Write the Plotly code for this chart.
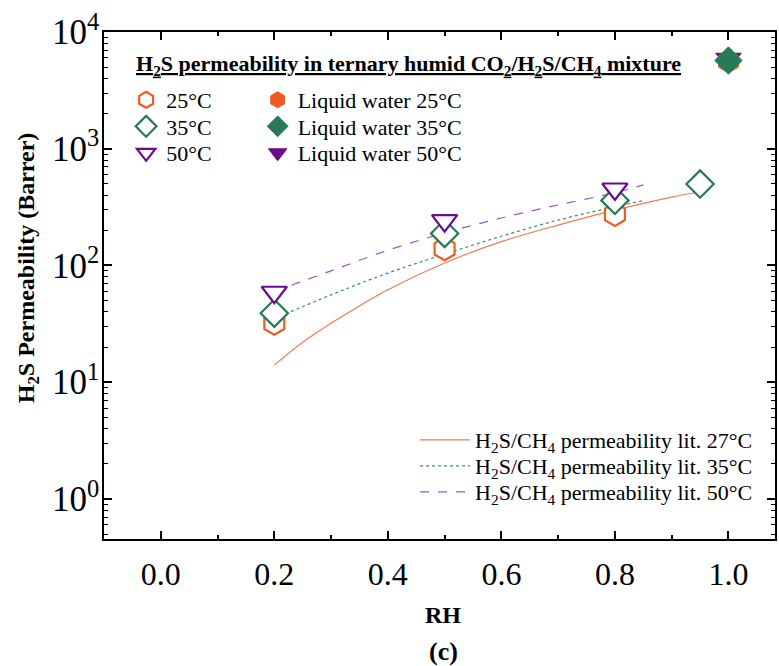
import plotly.graph_objects as go

# ---- data ----
rh_meas = [0.2, 0.5, 0.8]
rh_meas35 = [0.2, 0.5, 0.8, 0.95]
p25 = [32, 139, 274]
p35 = [39, 188, 361, 498]
p50 = [59, 242, 452]

rh_liq = [1.0]
liq25 = [5600]
liq35 = [5700]
liq50 = [5900]

rh_lit27 = [0.2, 0.25, 0.3, 0.35, 0.4, 0.5, 0.6, 0.7, 0.8, 0.9, 0.95]
lit27 = [14, 22, 32, 45, 62, 105, 160, 222, 298, 385, 428]
rh_lit35 = [0.2, 0.3, 0.4, 0.5, 0.6, 0.7, 0.8, 0.85]
lit35 = [35, 56, 86, 125, 178, 245, 318, 360]
rh_lit50 = [0.2, 0.3, 0.4, 0.5, 0.6, 0.7, 0.8, 0.85]
lit50 = [60, 90, 135, 190, 255, 330, 420, 490]

x_ticks = [0.0, 0.2, 0.4, 0.6, 0.8, 1.0]
x_ticktext = ["0.0", "0.2", "0.4", "0.6", "0.8", "1.0"]
y_ticks = [1, 10, 100, 1000, 10000]
y_ticktext = ["10<sup>0</sup>", "10<sup>1</sup>", "10<sup>2</sup>", "10<sup>3</sup>", "10<sup>4</sup>"]

C25 = "#F05A22"
C35 = "#267A55"
C50 = "#6A0A8C"
FONT = "Liberation Serif"

fig = go.Figure()

# literature lines
fig.add_trace(go.Scatter(x=rh_lit27, y=lit27, mode="lines", line=dict(color="#F47A50", width=1.2, shape="spline"),
                         name="H<sub>2</sub>S/CH<sub>4</sub> permeability lit. 27°C", legend="legend7", showlegend=True))
fig.add_trace(go.Scatter(x=rh_lit35, y=lit35, mode="lines", line=dict(color="#3B8F63", width=1.2, dash="dot", shape="spline"),
                         name="H<sub>2</sub>S/CH<sub>4</sub> permeability lit. 35°C", legend="legend8", showlegend=True))
fig.add_trace(go.Scatter(x=rh_lit50, y=lit50, mode="lines", line=dict(color="#A050D0", width=1.2, dash="dash", shape="spline"),
                         name="H<sub>2</sub>S/CH<sub>4</sub> permeability lit. 50°C", legend="legend9", showlegend=True))

# measured (open markers)
fig.add_trace(go.Scatter(x=rh_meas, y=p25, mode="markers", name="25°C", legend="legend", showlegend=True,
                         marker=dict(symbol="hexagon", size=23, color="white", line=dict(color=C25, width=2.2))))
fig.add_trace(go.Scatter(x=rh_meas35, y=p35, mode="markers", name="35°C", legend="legend2", showlegend=True,
                         marker=dict(symbol="diamond", size=21, color="white", line=dict(color=C35, width=2.2))))
fig.add_trace(go.Scatter(x=rh_meas, y=p50, mode="markers", name="50°C", legend="legend3", showlegend=True,
                         marker=dict(symbol="triangle-down", size=22, color="white", line=dict(color=C50, width=2.2))))

# liquid water (filled markers)
fig.add_trace(go.Scatter(x=rh_liq, y=liq50, mode="markers", name="Liquid water 50°C", legend="legend6", showlegend=True,
                         marker=dict(symbol="triangle-down", size=22, color=C50, line=dict(color=C50, width=1))))
fig.add_trace(go.Scatter(x=rh_liq, y=liq25, mode="markers", name="Liquid water 25°C", legend="legend4", showlegend=True,
                         marker=dict(symbol="hexagon", size=23, color=C25, line=dict(color=C25, width=1))))
fig.add_trace(go.Scatter(x=rh_liq, y=liq35, mode="markers", name="Liquid water 35°C", legend="legend5", showlegend=True,
                         marker=dict(symbol="diamond", size=21, color=C35, line=dict(color=C35, width=1))))

axis_common = dict(showgrid=False, zeroline=False, showline=True, linecolor="black", linewidth=1.5,
                   mirror="ticks", ticks="inside", ticklen=8, tickwidth=1.5, tickcolor="black")

fig.update_xaxes(range=[-0.1, 1.082], tickvals=x_ticks, ticktext=x_ticktext,
                 tickfont=dict(family=FONT, size=32, color="black"), ticklabelstandoff=6,
                 minor=dict(ticks="inside", ticklen=4, tickwidth=1.5, dtick=0.1, tick0=0, tickcolor="black"),
                 **axis_common)
fig.update_yaxes(type="log", range=[-0.343, 4.0], tickvals=y_ticks, ticktext=y_ticktext,
                 tickfont=dict(family=FONT, size=35, color="black"), ticklabelstandoff=-4,
                 minor=dict(ticks="inside", ticklen=4, tickwidth=1.2, dtick="D1", tickcolor="black"),
                 **axis_common)

legend_common = dict(bgcolor="rgba(0,0,0,0)", borderwidth=0, font=dict(family=FONT, size=22, color="black"),
                     itemsizing="trace", xanchor="left", yanchor="middle", tracegroupgap=0)


def py(p):
    return (539 - p) / 507


col1_x = 0.033
col2_x = 0.229
lit_x = 0.4636
rows_top = [100, 126.5, 153]
rows_lit = [440, 466, 492]

fig.update_layout(
    width=779, height=666,
    showlegend=True,
    margin=dict(l=104, r=2, t=32, b=127),
    plot_bgcolor="white", paper_bgcolor="white",
    font=dict(family=FONT, color="black"),
    legend=dict(x=col1_x, y=py(rows_top[0]), **legend_common),
    legend2=dict(x=col1_x, y=py(rows_top[1]), **legend_common),
    legend3=dict(x=col1_x, y=py(rows_top[2]), **legend_common),
    legend4=dict(x=col2_x, y=py(rows_top[0]), **legend_common),
    legend5=dict(x=col2_x, y=py(rows_top[1]), **legend_common),
    legend6=dict(x=col2_x, y=py(rows_top[2]), **legend_common),
    legend7=dict(x=lit_x, y=py(rows_lit[0]), itemwidth=50, **legend_common),
    legend8=dict(x=lit_x, y=py(rows_lit[1]), itemwidth=50, **legend_common),
    legend9=dict(x=lit_x, y=py(rows_lit[2]), itemwidth=50, **legend_common),
    annotations=[
        dict(text="<b><u>H<sub>2</sub>S permeability in ternary humid CO<sub>2</sub>/H<sub>2</sub>S/CH<sub>4</sub> mixture</u></b>",
             xref="paper", yref="paper", x=0.044, y=py(65), xanchor="left", yanchor="middle",
             showarrow=False, font=dict(family=FONT, size=22, color="black")),
        dict(text="<b>H<sub>2</sub>S Permeability (Barrer)</b>", xref="paper", yref="paper",
             x=(28 - 104) / 673, y=py(268), textangle=-90, showarrow=False,
             xanchor="center", yanchor="middle", font=dict(family=FONT, size=24, color="black")),
        dict(text="<b>RH</b>", xref="paper", yref="paper", x=(444 - 104) / 673, y=py(615),
             showarrow=False, xanchor="center", yanchor="middle", font=dict(family=FONT, size=24, color="black")),
        dict(text="<b>(c)</b>", xref="paper", yref="paper", x=(445 - 104) / 673, y=py(651),
             showarrow=False, xanchor="center", yanchor="middle", font=dict(family=FONT, size=26, color="black")),
    ],
)

fig.write_html("out.html")
